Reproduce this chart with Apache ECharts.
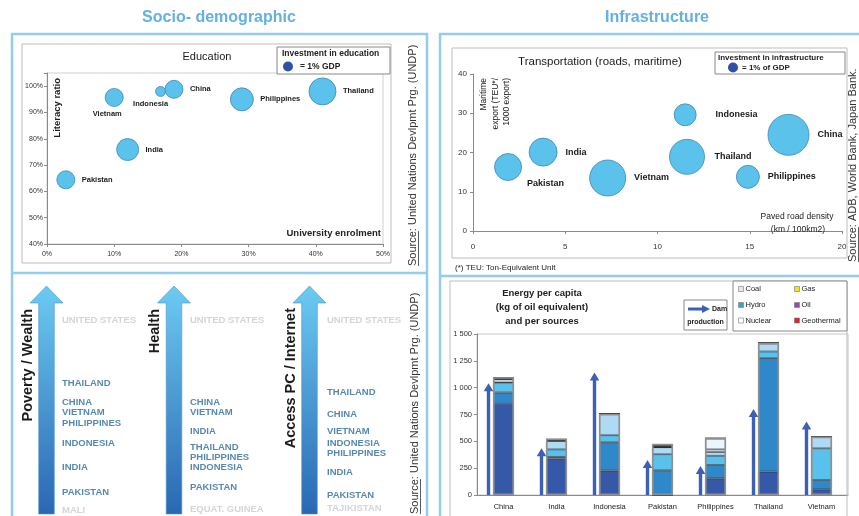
<!DOCTYPE html>
<html>
<head>
<meta charset="utf-8">
<script src="https://cdn.jsdelivr.net/npm/echarts@6/dist/echarts.min.js"></script>
<style>
  html, body { margin: 0; padding: 0; background: #fff; }
  #chart { width: 859px; height: 516px; }
</style>
</head>
<body>
<div id="chart"></div>
<script>
// ---------- Education: university enrolment vs literacy, bubble = spending (% GDP)
const eduCountries  = ['Pakistan', 'India', 'Vietnam', 'Indonesia', 'China', 'Philippines', 'Thailand'];
const eduEnrolment  = [2.8, 12.0, 10.0, 16.9, 18.9, 29.0, 41.0];     // %
const eduLiteracy   = [64.4, 75.9, 95.7, 98.0, 98.8, 95.0, 98.0];    // %
const eduInvestment = [1.8, 2.2, 1.8, 1.0, 1.8, 2.3, 2.7];           // % of GDP

// ---------- Transportation: paved road density vs maritime export
const trCountries   = ['Pakistan', 'India', 'Vietnam', 'Indonesia', 'Thailand', 'Philippines', 'China'];
const roadDensity   = [1.9, 3.8, 7.3, 11.5, 11.6, 14.9, 17.1];       // km / 100 km2
const maritimeExp   = [16.3, 20.1, 13.5, 29.6, 18.9, 13.8, 24.5];    // TEU / 1000 export
const infraInvest   = [2.7, 2.8, 3.6, 2.2, 3.5, 2.3, 4.1];           // % of GDP

// ---------- Energy per capita (kg of oil equivalent), stacked by source
const energyCountries = ['China', 'India', 'Indonesia', 'Pakistan', 'Philippines', 'Thailand', 'Vietnam'];
const energyDarkBlue  = [850, 340, 227, 0, 155, 218, 53];
const energyMidBlue   = [105, 15, 264, 230, 125, 1057, 87];
const energyCyan      = [93, 70, 66, 150, 85, 62, 295];
const energyLightBlue = [0, 80, 199, 65, 35, 78, 109];
const energyPale      = [30, 0, 0, 0, 25, 0, 0];
const energyWhite     = [0, 0, 0, 0, 105, 0, 0];
const energyDarkTop   = [20, 20, 0, 31, 0, 0, 0];
const damProduction   = [1042, 435, 1141, 326, 270, 802, 684];

// ---------- Rankings (index 0-100, higher = better)
const povertyNames  = ['UNITED STATES', 'THAILAND', 'CHINA', 'VIETNAM', 'PHILIPPINES', 'INDONESIA', 'INDIA', 'PAKISTAN', 'MALI'];
const povertyScores = [90.5, 60.5, 51.4, 46.7, 41.4, 31.9, 20.5, 8.6, 0];
const healthNames   = ['UNITED STATES', 'CHINA', 'VIETNAM', 'INDIA', 'THAILAND', 'PHILIPPINES', 'INDONESIA', 'PAKISTAN', 'EQUAT. GUINEA'];
const healthScores  = [90.5, 51.4, 46.7, 37.6, 30.0, 25.2, 20.5, 11.0, 0.5];
const accessNames   = ['UNITED STATES', 'THAILAND', 'CHINA', 'VIETNAM', 'INDONESIA', 'PHILIPPINES', 'INDIA', 'PAKISTAN', 'TAJIKISTAN'];
const accessScores  = [90.5, 56.2, 45.7, 37.6, 31.9, 27.1, 18.1, 7.1, 1.0];
const benchmarkCountries = ['UNITED STATES', 'MALI', 'EQUAT. GUINEA', 'TAJIKISTAN'];

// ---------- styling
const FONT = '"Liberation Sans", Arial, sans-serif';
const PX_PER_PCT = 10;               // bubble diameter for 1% of GDP
const BUBBLE = '#5bc2ec', BUBBLE_EDGE = '#3f86b6';
const PANEL = '#95cbec', BOX = '#bdbdbd';
const RANK_COLOR = '#2d6b9c', BENCH_COLOR = '#cacaca';
const ARROW_BLUE = '#3c60b6';

function txt(x, y, text, o = {}) {
  const align = o.align || 'left', valign = o.valign || 'middle';
  const style = {
    text, fill: o.color || '#222',
    font: `${o.weight || 'normal'} ${o.size || 9}px ${FONT}`,
    align, verticalAlign: valign, textAlign: align, textVerticalAlign: valign
  };
  if (o.lineHeight) style.lineHeight = o.lineHeight;
  return { type: 'text', x, y, rotation: o.rotation || 0, z: o.z == null ? 30 : o.z, style };
}
function rect(x, y, w, h, o = {}) {
  return { type: 'rect', z: o.z == null ? 1 : o.z, shape: { x, y, width: w, height: h },
    style: { fill: o.fill || 'none', stroke: o.stroke || BOX, lineWidth: o.lineWidth || 1 } };
}
function line(x1, y1, x2, y2, color, w, z) {
  return { type: 'line', z: z == null ? 2 : z, shape: { x1, y1, x2, y2 }, style: { stroke: color, lineWidth: w } };
}
const measureCtx = document.createElement('canvas').getContext('2d');
function textWidth(t, font) { measureCtx.font = font; return measureCtx.measureText(t).width; }

// vertical source note reading upwards, with "Source" underlined
function sourceNote(x, yStart, text, size) {
  const font = `normal ${size}px ${FONT}`;
  const w = textWidth('Source', font);
  return [
    txt(x, yStart, text, { rotation: Math.PI / 2, size, color: '#333' }),
    line(x + size * 0.5, yStart, x + size * 0.5, yStart - w, '#333', 0.8)
  ];
}

// big gradient arrow of the ranking columns
function bigArrow(cx) {
  const tip = 286, base = 303, bottom = 514, hw = 16.5, sw = 7.8;
  return {
    type: 'polygon', z: 3,
    shape: { points: [[cx, tip], [cx + hw, base], [cx + sw, base], [cx + sw, bottom],
                      [cx - sw, bottom], [cx - sw, base], [cx - hw, base]] },
    style: {
      fill: new echarts.graphic.LinearGradient(0, 0, 0, 1, [
        { offset: 0, color: '#6ccbf2' }, { offset: 1, color: '#2a67b3' }]),
      stroke: '#4b95cf', lineWidth: 0.6
    }
  };
}

// ---------- bubble data
const eduLabel = {
  Vietnam:   { position: 'bottom', offset: [-7, 0], distance: 3 },
  Indonesia: { position: 'bottom', offset: [-10, 0], distance: 3 }
};
const eduData = eduCountries.map((n, i) => ({
  name: n, value: [eduEnrolment[i], eduLiteracy[i], eduInvestment[i]],
  label: eduLabel[n] || { position: 'right', distance: 6.5 }
}));
const trLabel = {
  Pakistan:  { position: 'right', distance: 5, offset: [0, 16] },
  Indonesia: { position: 'right', distance: 19 },
  Thailand:  { position: 'right', distance: 9.5 }
};
const trData = trCountries.map((n, i) => ({
  name: n, value: [roadDensity[i], maritimeExp[i], infraInvest[i]],
  label: trLabel[n] || { position: 'right', distance: 8 }
}));

// ---------- energy stacks
const stackDefs = [
  ['Dark blue', energyDarkBlue, '#3559a8'],
  ['Mid blue', energyMidBlue, '#2f88ca'],
  ['Cyan', energyCyan, '#58c1ec'],
  ['Light blue', energyLightBlue, '#aedaf3'],
  ['Pale', energyPale, '#d6ecf9'],
  ['White', energyWhite, '#eaf5fc'],
  ['Dark top', energyDarkTop, '#3a3a3a']
];
const energyTotals = energyCountries.map((_, i) => stackDefs.reduce((s, d) => s + d[1][i], 0));
const stackSeries = stackDefs.map(([name, data, color]) => ({
  name, type: 'bar', stack: 'energy', xAxisIndex: 2, yAxisIndex: 2,
  barWidth: 21, barGap: '-100%', data,
  itemStyle: { color, borderColor: 'rgba(40,40,40,0.75)', borderWidth: 0.8 }
}));

// ---------- ranking label series
function rankSeries(idx, names, scores) {
  return {
    type: 'scatter', xAxisIndex: idx, yAxisIndex: idx, symbolSize: 0, silent: true,
    data: names.map((n, i) => ({
      name: n, value: [0, scores[i]],
      label: { color: benchmarkCountries.includes(n) ? BENCH_COLOR : RANK_COLOR }
    })),
    label: { show: true, formatter: '{b}', position: 'right', distance: 0,
             fontSize: 9.5, fontWeight: 'bold', fontFamily: FONT }
  };
}

const axisLine = { lineStyle: { color: '#8a8a8a', width: 1 } };
const thousands = v => v >= 1000 ? Math.floor(v / 1000) + ' ' + String(v % 1000).padStart(3, '0') : String(v);

const graphics = [
  // panels
  rect(12, 34, 415, 500, { stroke: PANEL, lineWidth: 2.5 }),
  rect(440, 34, 440, 500, { stroke: PANEL, lineWidth: 2.5 }),
  line(12, 273, 427, 273, PANEL, 2.5),
  line(440, 276, 859, 276, PANEL, 2.5),
  txt(219, 18, 'Socio- demographic', { size: 16, weight: 'bold', color: '#64b0e0', align: 'center' }),
  txt(657, 18, 'Infrastructure', { size: 16, weight: 'bold', color: '#64b0e0', align: 'center' }),

  // education box
  rect(22, 44, 369, 219),
  txt(207, 57, 'Education', { size: 11, align: 'center', color: '#1a1a1a' }),
  rect(277, 47, 113, 27, { fill: '#fff', stroke: '#888', z: 25 }),
  txt(282, 54, 'Investment in education', { size: 8.5, weight: 'bold' }),
  { type: 'circle', z: 31, shape: { cx: 288, cy: 66.5, r: PX_PER_PCT / 2 }, style: { fill: '#2f50a6' } },
  txt(300, 66.5, '= 1% GDP', { size: 8.5, weight: 'bold' }),
  txt(57, 78, 'Literacy ratio', { rotation: Math.PI / 2, align: 'right', size: 9.5, weight: 'bold' }),
  txt(381, 233, 'University enrolment', { align: 'right', size: 9.5, weight: 'bold' }),
  ...sourceNote(413, 266, 'Source: United Nations Devlpmt Prg. (UNDP)', 11),

  // ranking columns
  bigArrow(46.5), bigArrow(174), bigArrow(309.5),
  txt(28, 309, 'Poverty / Wealth', { rotation: Math.PI / 2, align: 'right', size: 14.5, weight: 'bold', color: '#1c1c1c' }),
  txt(154.5, 309, 'Health', { rotation: Math.PI / 2, align: 'right', size: 14.5, weight: 'bold', color: '#1c1c1c' }),
  txt(290.5, 308, 'Access PC / Internet', { rotation: Math.PI / 2, align: 'right', size: 14.5, weight: 'bold', color: '#1c1c1c' }),
  ...sourceNote(415, 514, 'Source: United Nations Devlpmt Prg. (UNDP)', 11),

  // transportation box
  rect(452, 48, 395, 210),
  txt(600, 62, 'Transportation (roads, maritime)', { size: 11.5, align: 'center', color: '#1a1a1a' }),
  rect(715, 52, 130, 22, { fill: '#fff', stroke: '#888', z: 25 }),
  txt(718, 57.5, 'Investment in infrastructure', { size: 8, weight: 'bold' }),
  { type: 'circle', z: 31, shape: { cx: 733, cy: 67.5, r: PX_PER_PCT / 2 }, style: { fill: '#2f50a6' } },
  txt(742, 67.5, '= 1% of GDP', { size: 8, weight: 'bold' }),
  txt(478, 78, 'Maritime\nexport (TEU*/\n1000 export)', { rotation: Math.PI / 2, align: 'right', valign: 'top', size: 8.5, lineHeight: 11.5 }),
  txt(797, 217, 'Paved road density', { align: 'center', size: 8.5 }),
  txt(798, 230, '(km / 100km2)', { align: 'center', size: 8.5 }),
  txt(455, 268, '(*) TEU: Ton-Equivalent Unit', { size: 8 }),
  ...sourceNote(853, 262, 'Source: ADB, World Bank, Japan Bank.', 11),

  // energy box
  rect(450, 281, 397, 240),
  txt(542, 293, 'Energy per capita', { size: 9.5, weight: 'bold', align: 'center' }),
  txt(542, 307, '(kg of oil equivalent)', { size: 9.5, weight: 'bold', align: 'center' }),
  txt(542, 321, 'and per sources', { size: 9.5, weight: 'bold', align: 'center' }),
  rect(684, 300, 43, 30, { fill: '#fff', stroke: '#888', z: 25 }),
  line(688, 309, 703, 309, ARROW_BLUE, 3, 31),
  { type: 'polygon', z: 31, shape: { points: [[710, 309], [702, 305], [702, 313]] }, style: { fill: ARROW_BLUE } },
  txt(712, 309.5, 'Dam', { size: 7, weight: 'bold' }),
  txt(705.5, 322, 'production', { size: 7, weight: 'bold', align: 'center' }),
  rect(733, 281, 114, 50, { fill: '#fff', stroke: '#888', z: 25 })
];

// energy source legend (icon colours as printed)
[['Coal', '#e8e8e8', 741, 289], ['Gas', '#f1e31c', 797, 289],
 ['Hydro', '#36a6c8', 741, 305], ['Oil', '#9b4aa6', 797, 305],
 ['Nuclear', '#ffffff', 741, 320.5], ['Geothermal', '#d8262a', 797, 320.5]].forEach(([n, c, x, y]) => {
  graphics.push({ type: 'rect', z: 31, shape: { x: x - 2.5, y: y - 2.5, width: 5, height: 5 },
                  style: { fill: c, stroke: '#777', lineWidth: 0.6 } });
  graphics.push(txt(x + 4.5, y, n, { size: 7.5 }));
});

const option = {
  animation: false,
  backgroundColor: '#fff',
  textStyle: { fontFamily: FONT },
  graphic: { elements: graphics },
  grid: [
    { left: 47, top: 73, width: 336, height: 171, show: true, borderColor: '#d0d0d0', borderWidth: 1 },
    { left: 473, top: 74, width: 369, height: 157 },
    { left: 477, top: 334, width: 371, height: 161, show: true, borderColor: '#c8c8c8', borderWidth: 1 },
    { left: 62, top: 300, width: 90, height: 210 },
    { left: 190, top: 300, width: 90, height: 210 },
    { left: 327, top: 300, width: 90, height: 210 }
  ],
  xAxis: [
    { gridIndex: 0, type: 'value', min: 0, max: 50, interval: 10, splitLine: { show: false }, axisLine,
      axisTick: { length: 3, lineStyle: { color: '#8a8a8a' } },
      axisLabel: { formatter: '{value}%', fontSize: 7, color: '#333', margin: 7 } },
    { gridIndex: 1, type: 'value', min: 0, max: 20, interval: 5, splitLine: { show: false }, axisLine,
      axisTick: { length: 3, lineStyle: { color: '#8a8a8a' } },
      axisLabel: { fontSize: 8, color: '#333', margin: 12 } },
    { gridIndex: 2, type: 'category', data: energyCountries, axisLine,
      axisTick: { length: 3, lineStyle: { color: '#8a8a8a' } },
      axisLabel: { fontSize: 7.5, color: '#222', margin: 8, interval: 0 } },
    { gridIndex: 3, type: 'value', min: 0, max: 1, show: false },
    { gridIndex: 4, type: 'value', min: 0, max: 1, show: false },
    { gridIndex: 5, type: 'value', min: 0, max: 1, show: false }
  ],
  yAxis: [
    { gridIndex: 0, type: 'value', min: 40, max: 105, interval: 10, splitLine: { show: false }, axisLine: { show: true, ...axisLine },
      axisTick: { show: true, length: 3, lineStyle: { color: '#8a8a8a' } },
      axisLabel: { formatter: v => v <= 100 ? v + '%' : '', fontSize: 7, color: '#333', margin: 4 } },
    { gridIndex: 1, type: 'value', min: 0, max: 40, interval: 10, splitLine: { show: false }, axisLine: { show: true, ...axisLine },
      axisTick: { show: true, length: 3, lineStyle: { color: '#8a8a8a' } },
      axisLabel: { fontSize: 8, color: '#333', margin: 6 } },
    { gridIndex: 2, type: 'value', min: 0, max: 1500, interval: 250, splitLine: { show: false }, axisLine: { show: true, ...axisLine },
      axisTick: { show: true, length: 3, lineStyle: { color: '#8a8a8a' } },
      axisLabel: { formatter: thousands, fontSize: 7.5, color: '#333', margin: 5 } },
    { gridIndex: 3, type: 'value', min: 0, max: 100, show: false },
    { gridIndex: 4, type: 'value', min: 0, max: 100, show: false },
    { gridIndex: 5, type: 'value', min: 0, max: 100, show: false }
  ],
  series: [
    { name: 'Education', type: 'scatter', xAxisIndex: 0, yAxisIndex: 0, data: eduData,
      symbolSize: v => v[2] * PX_PER_PCT,
      itemStyle: { color: BUBBLE, borderColor: BUBBLE_EDGE, borderWidth: 0.8, opacity: 1 },
      label: { show: true, formatter: '{b}', fontSize: 7.5, fontWeight: 'bold', color: '#1a1a1a' } },
    { name: 'Transportation', type: 'scatter', xAxisIndex: 1, yAxisIndex: 1, data: trData,
      symbolSize: v => v[2] * PX_PER_PCT,
      itemStyle: { color: BUBBLE, borderColor: BUBBLE_EDGE, borderWidth: 0.8, opacity: 1 },
      label: { show: true, formatter: '{b}', fontSize: 9, fontWeight: 'bold', color: '#1a1a1a' } },
    ...stackSeries,
    { name: 'Outline', type: 'bar', xAxisIndex: 2, yAxisIndex: 2, barWidth: 21, barGap: '-100%', z: 3,
      data: energyTotals, silent: true,
      itemStyle: { color: 'rgba(0,0,0,0)', borderColor: '#8f8f8f', borderWidth: 1.6 } },
    { name: 'Dam production', type: 'custom', xAxisIndex: 2, yAxisIndex: 2, z: 4,
      data: damProduction.map((v, i) => [i, v]),
      renderItem: (params, api) => {
        const tip = api.coord([api.value(0), api.value(1)]);
        const base = api.coord([api.value(0), 0]);
        const x = tip[0] - 15, headH = 8, headW = 9.5, shaftW = 3.4;
        return { type: 'group', children: [
          { type: 'rect', shape: { x: x - shaftW / 2, y: tip[1] + headH - 1, width: shaftW, height: base[1] - tip[1] - headH + 1 },
            style: { fill: ARROW_BLUE } },
          { type: 'polygon', shape: { points: [[x, tip[1]], [x - headW / 2, tip[1] + headH], [x + headW / 2, tip[1] + headH]] },
            style: { fill: ARROW_BLUE } }
        ] };
      } },
    rankSeries(3, povertyNames, povertyScores),
    rankSeries(4, healthNames, healthScores),
    rankSeries(5, accessNames, accessScores)
  ]
};

const chart = echarts.init(document.getElementById('chart'), null, { renderer: 'canvas' });
chart.setOption(option);
</script>
</body>
</html>
